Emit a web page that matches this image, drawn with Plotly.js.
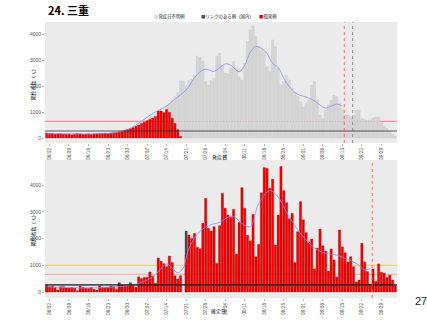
<!DOCTYPE html>
<html><head><meta charset="utf-8">
<script src="https://cdn.plot.ly/plotly-3.0.1.min.js"></script>
<style>html,body{margin:0;padding:0;background:#fff;}#chart{width:427px;height:320px;}</style>
</head><body><div id="chart"></div>
<script>
// ---------- data ----------
const titleText = '24. 三重';
const pageNumber = '27';
const legendLabels = ['発症日不明例', 'リンクのある例（国内）', '孤発例'];
const yAxisLabel = '陽性者数（人）';
const topXLabel = '発症日';
const bottomXLabel = '確定日';

const tickDates = ['2021-06-02','2021-06-09','2021-06-16','2021-06-23','2021-06-30','2021-07-07','2021-07-14','2021-07-21','2021-07-28','2021-08-04','2021-08-11','2021-08-18','2021-08-25','2021-09-01','2021-09-08','2021-09-15','2021-09-22','2021-09-29'];
const tickLabels = ['06/02','06/09','06/16','06/23','06/30','07/07','07/14','07/21','07/28','08/04','08/11','08/18','08/25','09/01','09/08','09/15','09/22','09/29'];
const yTicks = [0, 1000, 2000, 3000, 4000];
const xRange = ['2021-05-31 09:36', '2021-10-04 14:24'];

// top panel (onset date): isolated cases, 06/01 - 07/19
const topRedStart = '2021-06-01';
const topRed = [190,180,170,150,160,170,150,140,150,130, 150,170,160,140,150,160,140,160,160,170,
                180,190,170,190,200,220,240,270,300,330,
                360,400,450,500,560,610,670,720,770,830, 1040,1040,980,1100,990,760,560,320,60];
// top panel: unknown-onset bars, 07/14 - 10/04
const topGrayStart = '2021-07-14';
const topGray = [1150,1300,1450,1600,1750,2200,2200,2000,2200,2250,2400,3150,3100,2950,2170,2040,2200,2300,
  3150,3260,2800,2500,2450,2680,2940,2700,2360,2230, 2870,3700,4150,4310,3900,3510,3380,3300,2740,2550,
  3770,3510,2680,2040,2170,2420,2230,1910,1750,1590,1400,
  1200,1350,1460,2040,2170,1460,880,760,1080,1270, 1450,1650,1590,1330,1100,900,880,820,880,1080,
  1080,760,700,670,690,760,800,800,570,435, 370,245,150,80];
const topAvgDates = ['2021-06-01','2021-06-08','2021-06-15','2021-06-22','2021-06-26','2021-06-30','2021-07-03','2021-07-07','2021-07-10','2021-07-14','2021-07-17','2021-07-21','2021-07-25','2021-07-28','2021-07-31','2021-08-04','2021-08-06','2021-08-09','2021-08-11','2021-08-13','2021-08-15','2021-08-17','2021-08-19','2021-08-21','2021-08-23','2021-08-25','2021-08-27','2021-08-30','2021-09-02','2021-09-05','2021-09-07','2021-09-09','2021-09-11','2021-09-13','2021-09-15'];
const topAvgValues = [170,160,155,175,210,320,500,800,1000,1230,1500,1850,2450,2650,2560,2850,2800,2550,2800,3300,3520,3450,3250,2870,2720,2300,1970,1680,1580,1430,1270,1150,1230,1300,1240];
const topRefLevels = [640, 270];
const topVLines = ['2021-09-15 17:00', '2021-09-18 17:00'];

// bottom panel (confirmation date): isolated cases, 06/01 - 10/04 (07/20 missing)
const bottomRedStart = '2021-06-01';
const bottomRed = [200,200,230,160,75,200,200,150,150,175, 150,50,220,175,150,140,175,100,75,230,
  175,175,175,220,200,100,270,262,250,250,
  280,262,175,570,500,550,550,750,600,325, 1270,1150,1060,950,1345,1100,610,485,610,null,
  1380,2130,2000,2190,1670,1620,2570,3500,2380,2280,2440,
  1070,2480,3690,3130,2880,2790,3090,1420,2600,3900, 3130,2120,1910,2900,1320,1780,3710,4650,4620,3880,
  4220,1760,2880,4690,3790,3340,2740,2940,1100,2250,3380,
  2700,2220,1880,1980,860,1640,2350,1730,1530,785, 1610,1200,560,2320,1690,1470,1120,1320,950,375,
  450,1820,1120,760,300,860,400,1050,740,700, 540,630,450,240];
const bottomLinkDates = ['2021-06-01','2021-06-27','2021-07-01','2021-07-21'];
const bottomLinkValues = [262, 350, 350, 2280];
const bottomAvgDates = ['2021-06-01','2021-06-05','2021-06-10','2021-06-15','2021-06-20','2021-06-25','2021-06-30','2021-07-03','2021-07-07','2021-07-10','2021-07-14','2021-07-16','2021-07-18','2021-07-20','2021-07-22','2021-07-26','2021-07-30','2021-08-02','2021-08-05','2021-08-07','2021-08-10','2021-08-13','2021-08-16','2021-08-20','2021-08-23','2021-08-26','2021-08-30','2021-09-02','2021-09-05','2021-09-09','2021-09-13','2021-09-16','2021-09-20','2021-09-23','2021-09-25'];
const bottomAvgValues = [200,180,160,150,160,190,230,290,450,650,1050,900,720,900,1630,2270,2520,2600,2800,2820,2560,2440,3300,3790,3550,2980,2330,1950,1650,1440,1380,1260,1070,820,880];
const bottomRefLevels = [1000, 660, 265];
const bottomVLines = ['2021-09-25 17:00'];

// ---------- helpers ----------
function dateSeq(start, n) {
  const d0 = new Date(start + 'T00:00:00Z').getTime();
  return Array.from({length: n}, (_, k) => new Date(d0 + k * 864e5).toISOString().slice(0, 10));
}
const DAY = 864e5;
const barW = 0.82 * DAY;
const fontJP = '"Noto Sans CJK JP", "Liberation Sans", sans-serif';
const fontTick = '"Liberation Sans", Arial, sans-serif';

const cRed = '#f20000', cRedLine = '#a00000';
const cLight = '#d6d6d6', cLightLine = '#c2c2c2';
const cDark = '#4d4d4d';
const cAvg = '#8c8cff';

const traces = [
  {type:'bar', x: dateSeq(topGrayStart, topGray.length), y: topGray, width: barW,
   marker:{color:cLight, line:{color:cLightLine, width:0.3}, opacity:1}, xaxis:'x', yaxis:'y', hoverinfo:'skip'},
  {type:'bar', x: dateSeq(topRedStart, topRed.length), y: topRed, width: barW,
   marker:{color:cRed, line:{color:cRedLine, width:0.3}, opacity:1}, xaxis:'x', yaxis:'y', hoverinfo:'skip'},
  {type:'scatter', mode:'lines', x: topAvgDates, y: topAvgValues, line:{color:cAvg, width:0.8, shape:'spline'},
   xaxis:'x', yaxis:'y', hoverinfo:'skip'},
  {type:'bar', x: bottomLinkDates, y: bottomLinkValues, width: barW,
   marker:{color:cDark, line:{color:'#333', width:0.3}, opacity:1}, xaxis:'x2', yaxis:'y2', hoverinfo:'skip'},
  {type:'bar', x: dateSeq(bottomRedStart, bottomRed.length), y: bottomRed, width: barW,
   marker:{color:cRed, line:{color:cRedLine, width:0.3}, opacity:1}, xaxis:'x2', yaxis:'y2', hoverinfo:'skip'},
  {type:'scatter', mode:'lines', x: bottomAvgDates, y: bottomAvgValues, line:{color:cAvg, width:0.8, shape:'spline'},
   xaxis:'x2', yaxis:'y2', hoverinfo:'skip'}
];

const topLevelStyles = [{color:'#ff7a7a', width:1, layer:'below'}, {color:'rgba(40,40,40,0.75)', width:1.2, layer:'above'}];
const bottomLevelStyles = [{color:'#ffc466', width:1, layer:'below'}, {color:'#ff9f9f', width:1, layer:'below'}, {color:'rgba(30,30,30,0.75)', width:1.6, layer:'above'}];
const topVStyles = [{color:'#ff5555', dash:'dot'}, {color:'#777777', dash:'dot'}];
const bottomVStyles = [{color:'#ff5555', dash:'dot'}];

const shapes = [];
topRefLevels.forEach((v, k) => shapes.push({type:'line', xref:'x domain', yref:'y', x0:0, x1:1, y0:v, y1:v,
  layer: topLevelStyles[k].layer, line:{color: topLevelStyles[k].color, width: topLevelStyles[k].width}}));
bottomRefLevels.forEach((v, k) => shapes.push({type:'line', xref:'x2 domain', yref:'y2', x0:0, x1:1, y0:v, y1:v,
  layer: bottomLevelStyles[k].layer, line:{color: bottomLevelStyles[k].color, width: bottomLevelStyles[k].width}}));
topVLines.forEach((d, k) => shapes.push({type:'line', xref:'x', yref:'y domain', x0:d, x1:d, y0:0, y1:1,
  line:{color: topVStyles[k].color, width:0.8, dash: topVStyles[k].dash}}));
bottomVLines.forEach((d, k) => shapes.push({type:'line', xref:'x2', yref:'y2 domain', x0:d, x1:d, y0:0, y1:1,
  line:{color: bottomVStyles[k].color, width:0.8, dash: bottomVStyles[k].dash}}));

const W = 427, H = 320, ml = 45, mr = 30, mt = 22, mb = 22;
const pw = W - ml - mr, ph = H - mt - mb;
const px = x => (x - ml) / pw;           // pixel -> paper x
const py = y => (H - mb - y) / ph;       // pixel -> paper y

const legendColors = [cLight, cDark, cRed];
const legendX = [152, 199, 257];
const annotations = [
  {text:'<b>' + titleText + '</b>', xref:'paper', yref:'paper', x:px(46), y:py(10), xanchor:'left', yanchor:'middle',
   showarrow:false, font:{family:fontJP, size:11, color:'#000'}},
  {text: pageNumber, xref:'paper', yref:'paper', x:px(421), y:py(301), xanchor:'center', yanchor:'middle',
   showarrow:false, font:{family:'"Liberation Sans", Arial, sans-serif', size:11, color:'#222'}},
  {text: yAxisLabel, xref:'paper', yref:'paper', x:px(33), y:py(83), textangle:-90, xanchor:'center', yanchor:'middle',
   showarrow:false, font:{family:fontJP, size:4.8, color:'#222'}},
  {text: yAxisLabel, xref:'paper', yref:'paper', x:px(33), y:py(229), textangle:-90, xanchor:'center', yanchor:'middle',
   showarrow:false, font:{family:fontJP, size:4.8, color:'#222'}},
  {text: topXLabel, xref:'paper', yref:'paper', x:px(219), y:py(157), xanchor:'center', yanchor:'middle',
   showarrow:false, font:{family:fontJP, size:5, color:'#222'}},
  {text: bottomXLabel, xref:'paper', yref:'paper', x:px(218), y:py(311), xanchor:'center', yanchor:'middle',
   showarrow:false, font:{family:fontJP, size:5, color:'#222'}}
];
legendLabels.forEach((t, k) => annotations.push({
  text:'<span style="color:' + legendColors[k] + '">■</span>' + t, xref:'paper', yref:'paper',
  x:px(legendX[k]), y:py(17), xanchor:'left', yanchor:'middle', showarrow:false,
  font:{family:fontJP, size:4.4, color:'#222'}}));

const xCommon = {type:'date', range:xRange, tickmode:'array', tickvals:tickDates, ticktext:tickLabels,
  tickangle:-90, tickfont:{family:fontTick, size:4.8, color:'#555'}, ticks:'outside', ticklen:2, tickcolor:'#777',
  tickwidth:0.5, showgrid:false, zeroline:false, showline:false, fixedrange:true};
const yCommon = {tickmode:'array', tickvals:yTicks, tickfont:{family:fontTick, size:5, color:'#555'},
  ticks:'outside', ticklen:2, tickcolor:'#777', tickwidth:0.5, showgrid:false, zeroline:false, showline:false, fixedrange:true};

const layout = {
  width:W, height:H, margin:{l:ml, r:mr, t:mt, b:mb, pad:0},
  paper_bgcolor:'#ffffff', plot_bgcolor:'#ebebeb',
  barmode:'overlay', bargap:0, showlegend:false,
  xaxis: Object.assign({}, xCommon, {anchor:'y', domain:[0,1]}),
  xaxis2: Object.assign({}, xCommon, {anchor:'y2', domain:[0,1]}),
  yaxis: Object.assign({}, yCommon, {anchor:'x', domain:[py(143), 1], range:[-192, 4462]}),
  yaxis2: Object.assign({}, yCommon, {anchor:'x2', domain:[0, py(160)], range:[-224, 4935]}),
  shapes: shapes, annotations: annotations
};

Plotly.newPlot('chart', traces, layout, {staticPlot:true, displayModeBar:false});
</script></body></html>
